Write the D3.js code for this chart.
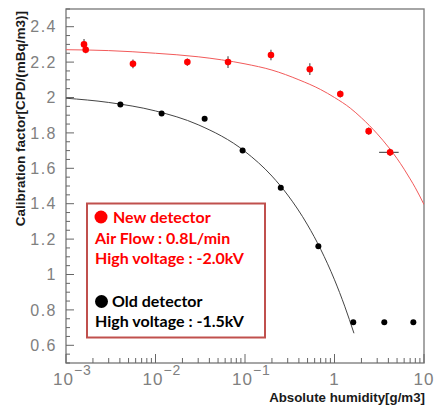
<!DOCTYPE html>
<html>
<head>
<meta charset="utf-8">
<script src="https://cdn.jsdelivr.net/npm/d3@7"></script>
<style>
  html, body { margin: 0; padding: 0; background: #fff; }
  svg { display: block; }
</style>
</head>
<body>
<svg id="chart" width="434" height="405"></svg>
<script>
// New detector measurements (absolute humidity [g/m3], calibration factor)
const newHumidity    = [0.00159, 0.00166, 0.0056, 0.0227, 0.0646, 0.195, 0.53, 1.16, 2.41, 4.18];
const newFactor      = [2.30, 2.27, 2.19, 2.20, 2.20, 2.24, 2.16, 2.02, 1.81, 1.69];
const newFactorErr   = [0.03, 0.02, 0.025, 0.02, 0.033, 0.03, 0.033, 0.02, 0.02, 0.02];
const newHumidityErr = [0, 0, 0, 0, 0, 0, 0, 0, 0, 1.03];

// Old detector measurements
const oldHumidity = [0.00405, 0.0117, 0.0354, 0.094, 0.251, 0.66, 1.62, 3.6, 7.6];
const oldFactor   = [1.96, 1.91, 1.88, 1.70, 1.49, 1.16, 0.73, 0.73, 0.73];

// Fitted curves, sampled
const newFitHumidity = [0.001, 0.003, 0.01, 0.03, 0.1, 0.2, 0.4, 0.7, 1, 1.5, 2, 3, 4, 5, 6, 7, 8, 10];
const newFitFactor   = [2.27, 2.265, 2.25, 2.23, 2.19, 2.155, 2.10, 2.045, 2.00, 1.94, 1.885, 1.795, 1.72, 1.655, 1.595, 1.54, 1.49, 1.395];
const oldFitHumidity = [0.001, 0.003, 0.01, 0.03, 0.1, 0.2, 0.3, 0.5, 0.7, 1, 1.3, 1.65];
const oldFitFactor   = [1.996, 1.972, 1.924, 1.846, 1.695, 1.556, 1.449, 1.28, 1.143, 0.97, 0.821, 0.668];

// Axis ticks
const yTickValues = [0.6, 0.8, 1, 1.2, 1.4, 1.6, 1.8, 2, 2.2, 2.4];
const xDecades = [0.001, 0.01, 0.1, 1, 10];
const xDecadeLabels = [["10", "\u22123"], ["10", "\u22122"], ["10", "\u22121"], ["1", ""], ["10", ""]];

const legendNew = ["New detector", "Air Flow : 0.8L/min", "High voltage : -2.0kV"];
const legendOld = ["Old detector", "High voltage : -1.5kV"];

const svg = d3.select("#chart");
const L = 66, R = 424, T = 9, B = 363;

const x = d3.scaleLog().domain([1e-3, 10]).range([L, R]);
const y = d3.scaleLinear().domain([0.5, 2.5]).range([B, T]);

const axisColor = "#666";
const labelColor = "#808080";

// Frame
svg.append("rect")
  .attr("x", L).attr("y", T).attr("width", R - L).attr("height", B - T)
  .attr("fill", "none").attr("stroke", "#808080").attr("stroke-width", 1.4);

// Y axis ticks (major every 0.2, minor every 0.05)
const yMinor = d3.range(0.5, 2.5001, 0.05).map(v => +v.toFixed(2));
svg.append("g").selectAll("line").data(yMinor).join("line")
  .attr("x1", L).attr("x2", d => L + (yTickValues.some(t => Math.abs(t - d) < 1e-6) ? 8 : 4))
  .attr("y1", d => y(d)).attr("y2", d => y(d))
  .attr("stroke", axisColor).attr("stroke-width", 1);

svg.append("g").selectAll("text").data(yTickValues).join("text")
  .attr("x", L - 9).attr("y", d => y(d)).attr("dy", "0.36em")
  .attr("text-anchor", "end")
  .attr("font-family", "Liberation Sans, Arial, sans-serif")
  .attr("font-size", 16).attr("fill", labelColor)
  .attr("letter-spacing", 1.5)
  .text(d => String(d));

// X axis ticks (log: decades major, 2..9 minor)
const xMinor = [];
for (let e = -3; e < 1; e++) {
  for (let m = 1; m <= 9; m++) xMinor.push(m * Math.pow(10, e));
}
xMinor.push(10);
svg.append("g").selectAll("line").data(xMinor).join("line")
  .attr("x1", d => x(d)).attr("x2", d => x(d))
  .attr("y1", B).attr("y2", d => B - (xDecades.some(t => Math.abs(t - d) / t < 1e-6) ? 9 : 5))
  .attr("stroke", axisColor).attr("stroke-width", 1);

const xl = svg.append("g").selectAll("text").data(xDecades).join("text")
  .attr("font-family", "Liberation Sans, Arial, sans-serif")
  .attr("font-size", 17).attr("fill", labelColor)
  .attr("letter-spacing", 1)
  .attr("y", 385)
  .attr("x", (d, i) => x(d) + (xDecadeLabels[i][1] ? -13 : 0))
  .attr("text-anchor", (d, i) => xDecadeLabels[i][1] ? "start" : "middle");
xl.append("tspan").text((d, i) => xDecadeLabels[i][0]);
xl.append("tspan").attr("dy", -10).attr("font-size", 14)
  .text((d, i) => xDecadeLabels[i][1]);

// Axis titles
svg.append("text")
  .attr("x", R + 1).attr("y", 402).attr("text-anchor", "end")
  .attr("font-family", "Liberation Sans, Arial, sans-serif")
  .attr("font-size", 13.3).attr("font-weight", "bold").attr("fill", "#1a1a1a")
  .text("Absolute humidity[g/m3]");

svg.append("text")
  .attr("transform", "translate(25,11) rotate(-90)")
  .attr("text-anchor", "end")
  .attr("font-family", "Liberation Sans, Arial, sans-serif")
  .attr("font-size", 13.5).attr("font-weight", "bold").attr("fill", "#1a1a1a")
  .text("Calibration factor[CPD/(mBq/m3)]");

// Fitted curves
const line = d3.line().x(d => x(d[0])).y(d => y(d[1])).curve(d3.curveMonotoneX);
svg.append("clipPath").attr("id", "plotclip")
  .append("rect").attr("x", L).attr("y", T).attr("width", R - L).attr("height", B - T);

svg.append("path")
  .datum(newFitHumidity.map((h, i) => [h, newFitFactor[i]]))
  .attr("d", line).attr("fill", "none").attr("stroke", "#f25a5a").attr("stroke-width", 1)
  .attr("clip-path", "url(#plotclip)");
svg.append("path")
  .datum(oldFitHumidity.map((h, i) => [h, oldFitFactor[i]]))
  .attr("d", line).attr("fill", "none").attr("stroke", "#444").attr("stroke-width", 1)
  .attr("clip-path", "url(#plotclip)");

// New detector error bars
const newPts = newHumidity.map((h, i) => ({h, f: newFactor[i], ef: newFactorErr[i], eh: newHumidityErr[i]}));
const eb = svg.append("g").attr("stroke", "#555").attr("stroke-width", 1.2);
eb.selectAll("line.v").data(newPts).join("line").attr("class", "v")
  .attr("x1", d => x(d.h)).attr("x2", d => x(d.h))
  .attr("y1", d => y(d.f + d.ef)).attr("y2", d => y(d.f - d.ef));
eb.selectAll("line.h").data(newPts.filter(d => d.eh > 0)).join("line").attr("class", "h")
  .attr("x1", d => x(d.h - d.eh)).attr("x2", d => x(d.h + d.eh))
  .attr("y1", d => y(d.f)).attr("y2", d => y(d.f));

svg.append("g").selectAll("circle").data(newPts).join("circle")
  .attr("cx", d => x(d.h)).attr("cy", d => y(d.f)).attr("r", 3.3).attr("fill", "#ff0000");

// Old detector points
svg.append("g").selectAll("circle").data(oldHumidity.map((h, i) => ({h, f: oldFactor[i]}))).join("circle")
  .attr("cx", d => x(d.h)).attr("cy", d => y(d.f)).attr("r", 3).attr("fill", "#000");

// Legend
const lg = svg.append("g");
lg.append("rect").attr("x", 87).attr("y", 203.5).attr("width", 178).attr("height", 134)
  .attr("fill", "#fff").attr("stroke", "#c0504d").attr("stroke-width", 2);

const legendFont = "Lato, Calibri, sans-serif";
lg.append("circle").attr("cx", 101).attr("cy", 217).attr("r", 6.5).attr("fill", "#ff0000");
lg.append("text").attr("x", 113).attr("y", 223)
  .attr("font-family", legendFont).attr("font-weight", "bold").attr("font-size", 16)
  .attr("fill", "#ff0000").text(legendNew[0]);
lg.selectAll("text.n").data(legendNew.slice(1)).join("text").attr("class", "n")
  .attr("x", 95).attr("y", (d, i) => 243.5 + i * 20.5)
  .attr("font-family", legendFont).attr("font-weight", "bold").attr("font-size", 16)
  .attr("fill", "#ff0000").text(d => d);

lg.append("circle").attr("cx", 101.5).attr("cy", 301.5).attr("r", 6.5).attr("fill", "#000");
lg.append("text").attr("x", 112).attr("y", 307)
  .attr("font-family", legendFont).attr("font-weight", "bold").attr("font-size", 16)
  .attr("fill", "#000").text(legendOld[0]);
lg.append("text").attr("x", 95).attr("y", 327)
  .attr("font-family", legendFont).attr("font-weight", "bold").attr("font-size", 16)
  .attr("fill", "#000").text(legendOld[1]);
</script>
</body>
</html>
